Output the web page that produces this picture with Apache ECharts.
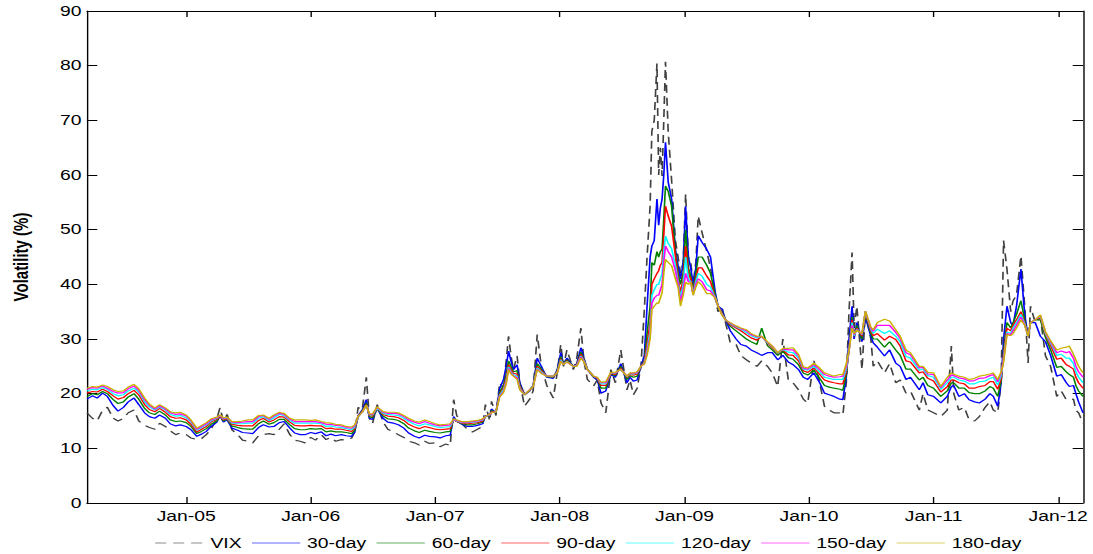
<!DOCTYPE html>
<html>
<head>
<meta charset="utf-8">
<script src="https://cdn.jsdelivr.net/npm/echarts@6/dist/echarts.min.js"></script>
<style>
html,body{margin:0;padding:0;background:#fff;}
#wrap{width:1093px;height:554px;overflow:hidden;position:relative;background:#fff;}
#chart{width:792px;height:554px;transform:scaleX(1.38);transform-origin:0 0;}
</style>
</head>
<body>
<div id="wrap"><div id="chart"></div></div>
<script>
// ---------- data ----------
const seriesNames = ['VIX','30-day','60-day','90-day','120-day','150-day','180-day'];
const xTickDates  = ['2005-01-01','2006-01-01','2007-01-01','2008-01-01','2009-01-01','2010-01-01','2011-01-01','2012-01-01'];
const xTickLabels = ['Jan-05','Jan-06','Jan-07','Jan-08','Jan-09','Jan-10','Jan-11','Jan-12'];
const yTicks = [0,10,20,30,40,50,60,70,80,90];

const dates = [
'2004-03-16','2004-04-01','2004-04-15','2004-05-01','2004-05-15','2004-06-01','2004-06-15','2004-07-01','2004-07-15','2004-08-01','2004-08-15','2004-09-01','2004-09-15','2004-10-01','2004-10-15','2004-11-01','2004-11-15','2004-12-01','2004-12-15',
'2005-01-01','2005-01-15','2005-02-01','2005-02-15','2005-03-01','2005-03-15','2005-04-01','2005-04-10','2005-04-20','2005-05-01','2005-05-15','2005-06-01','2005-06-15','2005-07-01','2005-07-15','2005-08-01','2005-08-15','2005-09-01','2005-09-15','2005-10-01','2005-10-15','2005-11-01','2005-11-15','2005-12-01','2005-12-15',
'2006-01-01','2006-01-15','2006-02-01','2006-02-15','2006-03-01','2006-03-15','2006-04-01','2006-04-15','2006-05-01','2006-05-10','2006-05-20','2006-06-01','2006-06-13','2006-06-22','2006-07-01','2006-07-15','2006-08-01','2006-08-15','2006-09-01','2006-09-15','2006-10-01','2006-10-15','2006-11-01','2006-11-15','2006-12-01','2006-12-15',
'2007-01-01','2007-01-15','2007-02-01','2007-02-14','2007-02-24','2007-03-05','2007-03-20','2007-04-05','2007-04-20','2007-05-05','2007-05-20','2007-05-28','2007-06-10','2007-06-15','2007-06-28','2007-07-09','2007-07-20','2007-07-28','2007-08-04','2007-08-11','2007-08-18','2007-08-29','2007-09-06','2007-09-20','2007-10-05','2007-10-15','2007-10-27','2007-11-08','2007-11-24','2007-12-13','2007-12-25',
'2008-01-04','2008-01-12','2008-01-22','2008-02-10','2008-02-20','2008-03-03','2008-03-12','2008-03-22','2008-04-09','2008-04-20','2008-05-01','2008-05-15','2008-05-30','2008-06-12','2008-06-28','2008-07-16','2008-07-25','2008-08-04','2008-08-15','2008-08-26','2008-09-05','2008-09-13','2008-09-22','2008-09-27','2008-10-04','2008-10-12','2008-10-17','2008-10-22','2008-10-27','2008-11-01','2008-11-06','2008-11-14','2008-11-24','2008-12-05','2008-12-13','2008-12-20','2008-12-28',
'2009-01-04','2009-01-12','2009-01-19','2009-01-26','2009-02-03','2009-02-10','2009-02-21','2009-03-07','2009-03-18','2009-04-01','2009-04-09','2009-04-20','2009-05-01','2009-05-15','2009-06-01','2009-06-15','2009-07-01','2009-07-15','2009-08-01','2009-08-15','2009-09-01','2009-09-15','2009-10-01','2009-10-16','2009-11-01','2009-11-15','2009-12-01','2009-12-15','2009-12-28',
'2010-01-15','2010-02-01','2010-02-15','2010-03-01','2010-03-15','2010-04-01','2010-04-10','2010-04-20','2010-04-28','2010-05-07','2010-05-13','2010-05-21','2010-06-05','2010-06-15','2010-07-01','2010-07-08','2010-07-20','2010-08-10','2010-08-25','2010-09-12','2010-09-25','2010-10-12','2010-10-25','2010-11-20','2010-12-01','2010-12-15',
'2011-01-01','2011-01-22','2011-02-10','2011-02-22','2011-03-01','2011-03-16','2011-04-01','2011-04-15','2011-05-01','2011-05-15','2011-06-01','2011-06-15','2011-06-25','2011-07-08','2011-07-18','2011-07-25','2011-08-04','2011-08-15','2011-08-22','2011-09-01','2011-09-14','2011-09-25','2011-10-05','2011-10-12','2011-10-26','2011-11-10','2011-11-25','2011-12-10','2011-12-28',
'2012-01-10','2012-01-25','2012-02-03','2012-02-15','2012-02-22','2012-03-01','2012-03-14'
];

const vix = [
16.5,15.5,15.0,17.0,17.5,15.5,15.0,15.5,16.5,17.0,15.0,14.2,13.8,13.5,14.6,14.0,13.2,12.5,12.8,
12.5,11.9,11.6,11.8,12.5,13.5,15.5,17.4,15.0,16.2,13.4,12.5,11.5,11.3,11.0,12.3,12.5,12.7,12.5,13.5,14.5,12.5,11.5,11.3,11.0,
12.0,11.5,12.5,11.6,12.0,11.3,11.6,11.5,11.9,13.0,17.5,17.0,23.0,15.5,14.5,18.0,14.8,13.5,13.0,12.5,12.0,11.3,11.0,10.6,11.3,10.9,
11.0,10.3,10.8,10.5,18.9,16.0,14.5,13.5,13.0,13.5,14.0,18.0,15.0,18.6,16.0,22.0,21.0,26.0,30.5,27.0,24.4,26.9,22.0,17.7,19.0,20.5,30.8,25.0,21.5,19.2,24.0,
29.0,25.0,28.0,24.4,26.5,32.0,26.0,22.6,21.4,22.5,18.3,16.5,24.4,22.0,28.0,20.7,22.5,19.8,21.0,25.0,35.4,45.0,54.4,68.0,70.0,80.4,60.0,65.0,59.8,70.0,80.7,67.9,59.0,48.0,45.0,42.0,44.0,
56.5,45.0,44.0,40.0,44.0,52.5,49.5,46.0,43.0,37.5,35.0,36.0,33.0,29.3,29.0,27.0,26.2,25.6,25.0,26.0,25.0,23.8,21.3,30.0,22.5,22.0,20.7,19.0,18.3,
26.0,22.0,17.7,17.0,16.5,16.5,16.1,22.0,35.0,45.8,32.0,36.0,24.4,35.0,30.0,25.0,26.0,23.8,25.5,22.0,22.5,20.1,20.5,17.0,20.0,17.0,
16.5,15.8,17.0,28.7,20.0,17.0,17.5,15.2,15.0,15.8,17.5,18.5,17.0,16.5,22.0,48.0,42.8,35.0,37.0,38.0,45.2,36.0,25.6,36.0,33.0,34.0,26.9,25.0,19.5,
20.5,18.9,18.9,19.0,17.0,16.5,14.6
];

const d30 = [
19.0,19.6,19.2,20.1,19.5,17.8,16.8,17.5,18.5,19.2,18.0,16.5,15.8,15.5,16.1,15.5,14.5,14.1,14.3,
14.0,13.4,12.2,12.6,13.1,14.0,14.8,16.0,14.8,15.2,13.7,13.3,12.9,12.8,12.7,13.8,14.3,13.9,14.0,14.7,14.9,13.7,12.8,12.5,12.5,
12.9,12.7,13.0,12.3,12.6,12.3,12.5,12.3,12.2,13.0,16.0,17.0,18.9,15.5,15.3,17.3,15.5,14.8,14.6,14.3,13.7,12.8,12.2,11.9,12.4,12.2,
12.1,11.9,12.3,12.4,15.8,15.0,14.4,14.0,14.0,14.2,14.5,16.0,15.8,17.2,16.5,21.0,22.5,25.0,27.8,26.0,24.4,25.3,22.0,19.8,20.5,21.5,26.5,25.0,23.0,22.8,24.5,
27.5,25.5,26.5,25.0,25.5,28.4,26.5,24.4,23.0,22.5,20.1,20.5,23.5,23.0,25.5,22.0,23.0,22.3,22.5,25.0,27.0,36.0,45.0,47.0,48.0,55.6,50.8,54.0,55.6,60.0,66.0,58.7,55.6,46.4,43.4,41.0,44.0,
54.3,45.0,43.0,40.0,43.0,48.9,47.7,46.4,45.0,38.5,36.0,35.5,33.5,31.5,30.0,29.0,28.7,28.0,27.5,27.0,27.5,27.5,26.2,27.0,25.8,25.3,24.4,23.0,22.6,
23.8,22.0,20.1,19.8,19.5,19.0,18.9,23.0,30.0,36.0,30.0,33.0,29.5,34.0,30.5,29.3,28.5,26.9,28.0,25.6,25.0,22.6,23.0,20.7,22.0,19.8,
19.5,18.3,19.5,21.3,21.5,19.5,20.0,18.9,18.5,18.3,19.0,20.0,19.5,17.7,22.0,29.9,36.0,33.0,32.5,36.0,42.8,34.5,30.5,33.0,33.0,30.5,29.5,27.0,23.2,
23.5,22.0,21.3,21.5,20.0,18.5,16.5
];

const d60 = [
19.5,20.0,19.8,20.4,20.0,18.9,18.2,18.5,19.4,20.0,19.0,17.3,16.5,16.2,16.8,16.1,15.2,14.9,15.0,
14.7,14.0,12.7,13.1,13.6,14.4,15.0,15.9,15.0,15.3,14.1,13.8,13.6,13.5,13.5,14.5,15.0,14.4,14.7,15.3,15.3,14.3,13.6,13.4,13.4,
13.6,13.5,13.6,13.0,13.2,13.0,13.0,12.9,12.7,13.3,15.8,16.8,18.3,15.8,15.6,17.3,15.9,15.4,15.3,15.1,14.5,13.7,13.2,12.9,13.3,13.1,
12.9,12.8,13.0,13.1,15.4,14.9,14.5,14.3,14.3,14.5,14.8,15.8,15.9,16.9,16.5,20.3,21.5,23.5,26.0,25.0,24.0,24.2,21.6,19.8,20.6,21.5,25.5,24.5,23.1,23.0,24.3,
26.8,25.5,26.2,25.0,25.4,27.6,26.3,24.5,23.1,22.7,21.0,21.0,23.6,23.3,25.0,22.6,23.3,23.0,23.2,25.0,26.0,31.0,36.0,44.0,43.5,46.0,45.0,46.0,46.4,52.0,58.0,57.0,54.3,46.0,42.0,40.0,42.0,
50.0,43.0,41.5,39.0,42.0,45.0,45.0,43.5,42.0,38.0,36.0,35.0,33.5,32.3,31.5,30.8,30.0,29.5,29.0,32.0,28.8,28.0,27.0,27.8,26.6,26.3,25.3,23.8,23.4,
24.3,22.8,21.5,21.2,21.0,20.8,20.6,23.5,28.5,34.0,30.5,32.5,30.0,34.5,31.0,30.0,30.0,28.5,29.5,28.0,27.0,24.5,24.5,22.5,23.0,21.5,
21.0,19.5,20.5,22.0,22.0,21.0,21.0,20.2,20.0,20.0,20.5,21.3,21.0,19.5,22.3,28.0,33.0,32.0,33.0,34.5,37.0,33.5,30.5,33.0,33.5,33.5,30.3,28.0,24.8,
25.0,24.0,23.5,23.0,21.5,20.5,19.5
];

const d90 = [
20.1,20.4,20.3,20.8,20.4,19.6,19.0,19.3,20.0,20.6,19.8,18.0,17.1,16.7,17.3,16.6,15.8,15.5,15.6,
15.2,14.4,13.0,13.5,14.0,14.8,15.3,15.9,15.2,15.4,14.4,14.2,14.1,14.1,14.1,15.1,15.5,14.8,15.2,15.8,15.7,14.8,14.2,14.1,14.1,
14.2,14.1,14.1,13.6,13.7,13.5,13.5,13.3,13.1,13.6,15.8,16.7,18.0,16.0,15.9,17.4,16.2,15.9,15.8,15.6,15.1,14.4,13.9,13.6,14.0,13.8,
13.5,13.4,13.5,13.6,15.3,14.9,14.6,14.5,14.6,14.7,15.0,15.8,16.0,16.7,16.6,19.9,21.0,22.8,25.3,24.4,23.7,23.6,21.3,19.8,20.7,21.4,25.0,24.2,23.2,23.1,24.1,
26.4,25.4,26.0,25.0,25.3,27.2,26.1,24.5,23.2,22.8,21.5,21.5,23.7,23.5,24.7,23.0,23.5,23.4,23.6,25.0,25.8,29.0,33.0,40.0,41.0,42.0,42.5,43.5,44.0,49.0,54.3,52.5,50.6,45.2,41.0,38.5,41.0,
47.0,42.0,41.0,38.5,41.0,43.0,43.0,41.5,40.5,37.5,36.0,34.8,33.5,32.6,32.0,31.5,30.8,30.2,29.8,30.5,29.2,28.4,27.3,28.0,27.1,27.0,26.0,24.2,23.9,
24.7,23.5,22.5,22.2,22.0,21.8,21.8,24.0,28.0,33.5,30.5,32.0,30.5,34.8,31.5,30.6,31.0,29.8,30.5,29.9,28.7,26.0,25.8,23.8,24.0,22.8,
22.3,20.3,21.3,22.5,22.5,22.0,21.8,21.0,21.0,21.3,21.5,22.2,22.2,20.8,22.8,27.0,32.0,31.5,32.5,33.5,35.0,33.0,30.5,33.0,33.5,34.0,30.8,28.8,26.3,
26.5,25.3,25.0,24.5,23.0,22.0,21.0
];

const d120 = [
20.5,20.8,20.7,21.1,20.8,20.0,19.6,19.8,20.5,21.0,20.3,18.5,17.6,17.0,17.6,17.0,16.2,15.9,16.0,
15.6,14.8,13.3,13.8,14.3,15.0,15.5,16.0,15.4,15.5,14.6,14.5,14.5,14.6,14.6,15.5,15.8,15.1,15.6,16.2,16.0,15.1,14.6,14.6,14.6,
14.6,14.6,14.5,14.0,14.1,13.9,13.8,13.6,13.4,13.9,15.8,16.6,17.9,16.1,16.1,17.4,16.4,16.2,16.1,16.0,15.5,14.9,14.4,14.1,14.5,14.3,
14.0,13.8,13.9,14.0,15.3,15.0,14.7,14.7,14.8,14.9,15.2,15.8,16.1,16.6,16.6,19.7,20.7,22.3,24.9,24.0,23.5,23.2,21.0,19.8,20.7,21.4,24.7,24.0,23.2,23.2,24.0,
26.2,25.4,25.9,25.0,25.2,26.9,26.0,24.5,23.2,22.9,21.8,21.8,23.8,23.7,24.5,23.1,23.6,23.6,23.8,25.0,25.6,28.0,31.5,38.0,39.0,40.0,40.0,41.0,42.0,46.0,48.8,47.5,46.5,43.5,40.5,37.5,40.0,
45.0,41.0,40.5,38.3,40.5,42.0,41.5,40.0,39.5,37.5,36.0,34.6,33.5,32.8,32.2,31.8,31.2,30.6,30.2,30.5,29.3,28.6,27.4,28.1,27.6,27.5,26.5,24.5,24.3,
25.0,24.0,23.0,22.8,22.6,22.6,22.6,24.5,27.8,33.0,30.6,31.8,30.8,35.0,31.8,31.0,31.8,31.0,31.5,30.5,29.5,26.8,26.5,24.3,24.5,23.3,
23.0,20.8,22.0,23.0,23.0,22.5,22.3,21.8,21.8,22.2,22.3,22.8,23.0,21.6,23.3,26.5,31.3,31.0,32.0,33.0,34.5,32.8,30.5,33.0,33.5,34.2,31.0,29.2,27.0,
27.2,26.5,26.5,25.5,24.0,23.0,22.0
];

const d150 = [
20.8,21.1,21.0,21.4,21.0,20.4,20.1,20.2,20.9,21.4,20.6,18.9,17.9,17.2,17.8,17.2,16.5,16.2,16.3,
15.9,15.0,13.5,14.0,14.5,15.2,15.6,16.0,15.5,15.6,14.8,14.7,14.8,14.9,14.9,15.8,16.0,15.3,15.9,16.4,16.2,15.3,14.9,14.9,14.9,
14.9,14.9,14.7,14.4,14.4,14.2,14.1,13.8,13.7,14.1,15.9,16.6,17.9,16.2,16.2,17.5,16.6,16.4,16.4,16.3,15.8,15.2,14.8,14.5,14.9,14.6,
14.3,14.1,14.2,14.3,15.3,15.1,14.8,14.8,14.9,15.0,15.3,15.8,16.2,16.5,16.7,19.5,20.4,22.0,24.6,23.8,23.3,22.9,20.8,19.8,20.7,21.3,24.5,23.8,23.2,23.2,23.9,
26.0,25.3,25.8,25.0,25.1,26.7,25.9,24.4,23.2,22.9,22.0,22.0,23.8,23.8,24.4,23.2,23.7,23.7,23.9,25.0,25.5,27.5,30.5,36.5,37.5,38.0,38.0,39.0,40.0,44.0,47.0,46.0,45.0,42.5,40.0,36.8,39.0,
42.0,40.5,40.4,38.1,40.0,41.0,40.5,39.0,38.8,37.5,36.0,34.5,33.5,32.9,32.3,31.9,31.5,30.8,30.4,30.5,29.4,28.7,27.5,28.2,28.0,28.0,26.9,24.7,24.5,
25.3,24.4,23.5,23.2,23.0,23.1,23.2,25.0,27.8,32.5,30.8,31.7,30.9,35.1,32.0,31.4,32.5,32.5,32.5,31.2,30.1,27.5,27.1,24.7,24.8,23.6,
23.5,21.1,22.5,23.4,23.3,22.9,22.7,22.3,22.4,22.8,22.9,23.3,23.5,22.2,23.7,26.2,31.0,30.8,31.5,32.5,34.0,32.6,30.5,33.0,33.5,34.3,31.2,29.5,27.5,
27.8,27.5,27.7,26.5,25.0,24.0,23.0
];

const d180 = [
21.0,21.3,21.2,21.6,21.3,20.7,20.4,20.5,21.2,21.7,20.9,19.2,18.1,17.4,18.0,17.4,16.7,16.5,16.6,
16.1,15.2,13.7,14.2,14.7,15.4,15.7,16.1,15.6,15.7,14.9,14.9,15.0,15.2,15.2,16.0,16.1,15.5,16.1,16.6,16.4,15.5,15.2,15.2,15.2,
15.1,15.2,14.9,14.7,14.6,14.4,14.3,14.0,13.9,14.3,15.9,16.6,17.9,16.3,16.3,17.6,16.7,16.6,16.6,16.5,16.0,15.5,15.0,14.8,15.2,14.9,
14.5,14.3,14.4,14.5,15.4,15.2,14.9,14.9,15.0,15.1,15.4,15.8,16.3,16.5,16.7,19.4,20.2,21.8,24.4,23.6,23.2,22.6,20.7,19.8,20.7,21.3,24.4,23.7,23.2,23.2,23.8,
25.9,25.3,25.8,25.0,25.0,26.5,25.8,24.4,23.2,23.0,22.1,22.2,23.9,23.9,24.4,23.2,23.8,23.8,24.0,25.0,25.4,27.0,30.0,35.4,36.0,36.6,36.5,37.5,38.5,42.0,44.6,44.0,43.4,41.0,39.5,36.0,38.0,
40.4,40.0,40.4,38.0,39.5,40.5,39.8,38.3,38.3,37.5,36.0,34.4,33.5,33.0,32.4,32.0,31.7,31.0,30.5,30.5,29.5,28.7,27.5,28.3,28.3,28.4,27.2,24.9,24.7,
25.6,24.7,23.8,23.5,23.2,23.5,23.5,25.5,27.8,32.0,31.0,31.6,31.0,35.1,32.2,31.7,33.0,33.6,33.3,31.7,30.5,28.0,27.5,25.0,25.0,23.9,
23.8,21.3,23.0,23.8,23.6,23.2,23.0,22.6,22.8,23.2,23.4,23.6,23.8,22.6,24.0,25.6,30.8,30.6,31.0,32.0,33.5,32.5,30.5,33.0,33.5,34.4,31.3,29.7,28.0,
28.3,28.5,28.7,27.2,26.2,25.0,23.8
];

// ---------- chart ----------
function ts(s){ const p = s.split('-').map(Number); return Date.UTC(p[0], p[1]-1, p[2]); }
const xMin = ts('2004-03-16'), xMax = ts('2012-03-14');
const tickVals = xTickDates.map(ts);
const xs = dates.map(ts);
const seriesValues = [vix, d30, d60, d90, d120, d150, d180];
const colors = ['#404040','#0000ff','#008000','#ff0000','#00ffff','#ff00ff','#c8b400'];
const FONT = '"Liberation Sans", Arial, Helvetica, sans-serif';

const series = seriesNames.map((name, i) => ({
  name: name,
  type: 'line',
  xAxisIndex: 0, yAxisIndex: 0,
  symbol: 'none',
  showSymbol: false,
  animation: false,
  data: xs.map((x, k) => [x, seriesValues[i][k]]),
  lineStyle: { color: colors[i], width: 1.2, type: i === 0 ? [8, 5] : 'solid' },
  itemStyle: { color: colors[i] },
  emphasis: { disabled: true }
}));

function xAxisDef(pos, showLabel) {
  return {
    type: 'value', min: xMin, max: xMax, position: pos, scale: true,
    axisLine: { show: true, onZero: false, lineStyle: { color: '#000', width: 1 } },
    axisTick: { show: true, inside: true, length: 6, customValues: tickVals, lineStyle: { color: '#000' } },
    axisLabel: showLabel ? {
      show: true, customValues: tickVals, margin: 6, fontSize: 14, color: '#000', fontFamily: FONT,
      formatter: function (v) { const k = tickVals.indexOf(v); return k >= 0 ? xTickLabels[k] : ''; }
    } : { show: false },
    splitLine: { show: false }
  };
}

const chart = echarts.init(document.getElementById('chart'), null, { renderer: 'svg' });
chart.setOption({
  animation: false,
  backgroundColor: '#fff',
  textStyle: { fontFamily: FONT },
  grid: { left: 62.3, right: 7.2, top: 11, bottom: 51, containLabel: false },
  legend: {
    data: seriesNames,
    left: 112, top: 536, padding: 0,
    itemWidth: 35, itemHeight: 14, itemGap: 7,
    itemStyle: { opacity: 0, borderWidth: 0 },
    lineStyle: { opacity: 0.6, width: 1 },
    textStyle: { fontSize: 14, color: '#000', fontFamily: FONT }
  },
  xAxis: [xAxisDef('bottom', true), xAxisDef('top', false)],
  yAxis: [{
    type: 'value', min: 0, max: 90, interval: 10, position: 'left',
    name: 'Volatility (%)', nameLocation: 'middle', nameGap: 40,
    nameTextStyle: { fontSize: 15, fontWeight: 'bold', color: '#000', fontFamily: FONT },
    axisLine: { show: true, onZero: false, lineStyle: { color: '#000', width: 1 } },
    axisTick: { show: true, inside: true, length: 7.5, lineStyle: { color: '#000' } },
    axisLabel: { show: true, margin: 4, fontSize: 14, color: '#000', fontFamily: FONT,
      formatter: function (v) { return yTicks.indexOf(v) >= 0 ? String(v) : ''; } },
    splitLine: { show: false }
  }, {
    type: 'value', min: 0, max: 90, interval: 10, position: 'right',
    axisLine: { show: true, onZero: false, lineStyle: { color: '#000', width: 1 } },
    axisTick: { show: true, inside: true, length: 7.5, lineStyle: { color: '#000' } },
    axisLabel: { show: false },
    splitLine: { show: false }
  }],
  series: series
});
</script>
</body>
</html>
